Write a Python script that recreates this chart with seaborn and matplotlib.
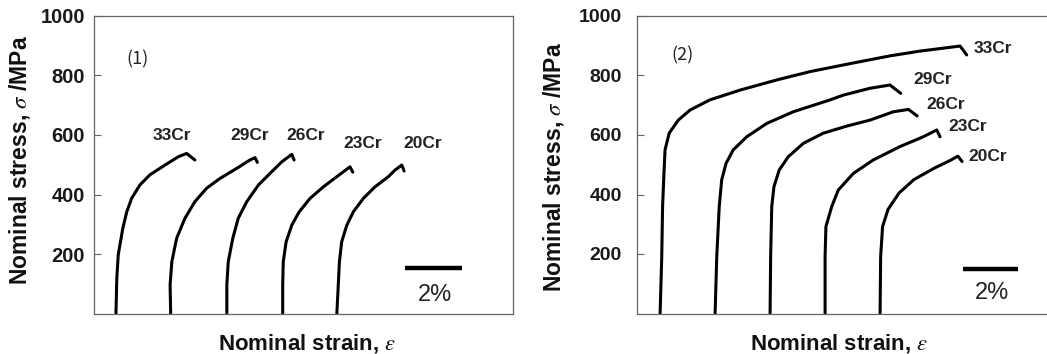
import matplotlib
matplotlib.use("Agg")
import matplotlib.pyplot as plt
import seaborn as sns
import pandas as pd

# ---------------- data (strain in %, curves shifted as in the figure; stress in MPa) -------------
alloys = ["33Cr", "29Cr", "26Cr", "23Cr", "20Cr"]

# Panel (1)
p1_33_strain = [0.77, 0.80, 0.85, 1.01, 1.15, 1.32, 1.61, 1.96, 2.49, 2.96, 3.25, 3.54]
p1_33_stress = [0, 118, 197, 286, 342, 387, 432, 466, 499, 527, 538, 516]
p1_29_strain = [2.69, 2.67, 2.73, 2.90, 3.19, 3.54, 3.95, 4.42, 5.01, 5.47, 5.65, 5.73]
p1_29_stress = [0, 96, 174, 253, 320, 376, 421, 454, 488, 516, 524, 508]
p1_26_strain = [4.66, 4.66, 4.71, 4.87, 5.06, 5.36, 5.77, 6.24, 6.59, 6.94, 7.02]
p1_26_stress = [0, 96, 174, 253, 320, 376, 432, 477, 510, 535, 516]
p1_23_strain = [6.62, 6.62, 6.64, 6.74, 6.94, 7.20, 7.58, 8.05, 8.52, 8.98, 9.08]
p1_23_stress = [0, 96, 174, 241, 297, 342, 387, 426, 460, 493, 475]
p1_20_strain = [8.52, 8.57, 8.61, 8.69, 8.87, 9.10, 9.45, 9.86, 10.33, 10.56, 10.80, 10.88]
p1_20_stress = [0, 96, 174, 241, 297, 342, 387, 426, 460, 482, 499, 479]

# Panel (2)
p2_33_strain = [0.84, 0.90, 0.93, 0.98, 1.02, 1.17, 1.50, 1.93, 2.65, 3.75, 5.08, 6.29, 7.75, 9.20, 10.29, 11.75, 11.99]
p2_33_stress = [0, 191, 359, 471, 550, 606, 650, 684, 718, 751, 785, 813, 840, 866, 882, 899, 869]
p2_29_strain = [2.84, 2.90, 2.99, 3.08, 3.24, 3.50, 3.99, 4.72, 5.68, 7.02, 7.50, 8.47, 9.20, 9.59]
p2_29_stress = [0, 191, 359, 449, 505, 550, 594, 639, 678, 718, 734, 757, 768, 740]
p2_26_strain = [4.84, 4.86, 4.90, 4.98, 5.17, 5.50, 6.05, 6.77, 7.63, 8.47, 9.32, 9.87, 10.19]
p2_26_stress = [0, 191, 359, 426, 482, 527, 572, 606, 630, 650, 678, 686, 664]
p2_23_strain = [6.84, 6.84, 6.87, 7.08, 7.32, 7.87, 8.59, 9.56, 10.41, 10.90, 11.02]
p2_23_stress = [0, 191, 292, 359, 415, 471, 516, 561, 594, 617, 594]
p2_20_strain = [8.84, 8.86, 8.93, 9.13, 9.53, 10.07, 10.84, 11.38, 11.67, 11.82]
p2_20_stress = [0, 191, 292, 350, 405, 450, 490, 514, 529, 511]

ytick_values = [200, 400, 600, 800, 1000]
panel_tags = ["(1)", "(2)"]
scale_label = "2%"
scale_length = 2.0
xlabel = "Nominal strain, $\\varepsilon$"
ylabel = "Nominal stress, $\\sigma$ /MPa"

panels = [
    list(zip(alloys, [p1_33_strain, p1_29_strain, p1_26_strain, p1_23_strain, p1_20_strain],
             [p1_33_stress, p1_29_stress, p1_26_stress, p1_23_stress, p1_20_stress])),
    list(zip(alloys, [p2_33_strain, p2_29_strain, p2_26_strain, p2_23_strain, p2_20_strain],
             [p2_33_stress, p2_29_stress, p2_26_stress, p2_23_stress, p2_20_stress])),
]

# ---------------- layout / styling -------------
label_pos = [
    [(2.74, 597), (5.47, 597), (7.44, 599), (9.43, 572), (11.53, 570)],
    [(12.96, 890), (10.75, 788), (11.24, 701), (12.01, 628), (12.77, 527)],
]
scale_pos = [(10.91, 152, 11.96, 62), (11.84, 150, 12.9, 68)]
tag_pos = [(1.54, 855), (1.65, 867)]
ax_rects = [[94 / 1047, 40.5 / 354, 419 / 1047, 297.5 / 354],
            [637 / 1047, 40.5 / 354, 410 / 1047, 297.5 / 354]]
xlims = [(0, 14.70), (0, 14.91)]
ylab_coords = [(-0.148, 0.516), (-0.172, 0.494)]
xlab_coords = [(0.508, -0.062), (0.493, -0.062)]
tick_pads = [6.5, 11]
tick_sizes = [14.5, 14]

sns.set_theme(style="white")
plt.rcParams["font.family"] = ["Liberation Sans", "DejaVu Sans"]
plt.rcParams["mathtext.fontset"] = "stix"
plt.rcParams["lines.solid_joinstyle"] = "round"
plt.rcParams["lines.solid_capstyle"] = "round"

fig = plt.figure(figsize=(10.47, 3.54), dpi=100)
spine_col = "#666666"

for i, curves in enumerate(panels):
    ax = fig.add_axes(ax_rects[i])
    for name, xs, ys in curves:
        df = pd.DataFrame({"strain": xs, "stress": ys})
        sns.lineplot(data=df, x="strain", y="stress", sort=False, estimator=None,
                     color="black", linewidth=2.2, ax=ax)
    for (name, _, _), (lx, ly) in zip(curves, label_pos[i]):
        ax.text(lx, ly, name, ha="center", va="center", fontsize=12.5,
                fontweight="bold", color="#222222")
    sx, sy, tx, ty = scale_pos[i]
    ax.plot([sx, sx + scale_length], [sy, sy], color="black", linewidth=3.2,
            solid_capstyle="butt")
    ax.text(tx, ty, scale_label, ha="center", va="center", fontsize=17, color="#222222")
    ax.text(tag_pos[i][0], tag_pos[i][1], panel_tags[i], ha="center", va="center",
            fontsize=13, color="#222222", family=["Noto Sans CJK SC", "DejaVu Sans"])

    ax.set_xlim(*xlims[i])
    ax.set_ylim(0, 1000)
    ax.set_xticks([])
    ax.set_yticks(ytick_values)
    ax.set_yticklabels([str(v) for v in ytick_values], fontweight="bold",
                       fontsize=tick_sizes[i], color="#1a1a1a")
    ax.tick_params(axis="y", direction="in", length=5, width=0.8, color=spine_col,
                   pad=tick_pads[i], left=True)
    for s in ax.spines.values():
        s.set_color(spine_col)
        s.set_linewidth(0.9)
    if i == 1:
        ax.spines["right"].set_visible(False)
    ax.set_xlabel(xlabel, fontsize=16, fontweight="bold", color="#111111")
    ax.set_ylabel(ylabel, fontsize=16.5, fontweight="bold", color="#111111")
    ax.xaxis.set_label_coords(*xlab_coords[i])
    ax.yaxis.set_label_coords(*ylab_coords[i])

fig.savefig("out.png", dpi=100, facecolor="white")
